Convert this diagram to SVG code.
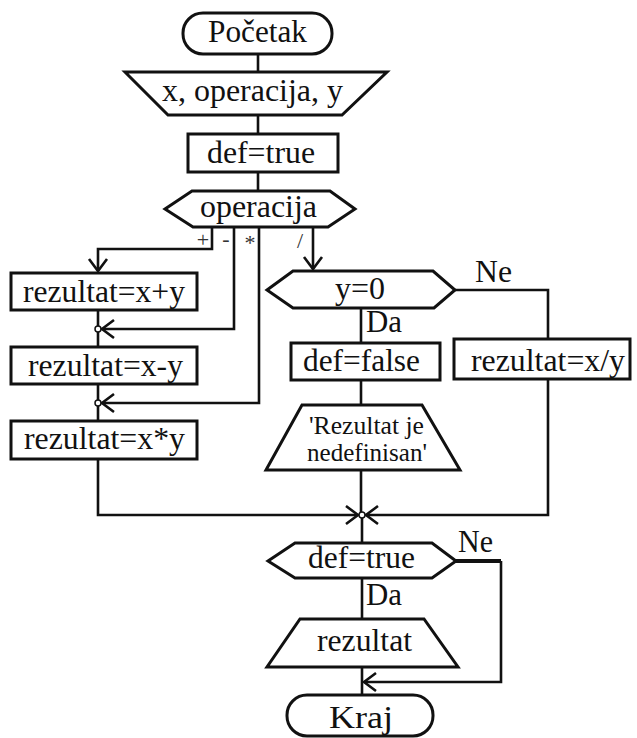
<svg xmlns="http://www.w3.org/2000/svg" width="637" height="738" viewBox="0 0 637 738">
  <style>
    .shape { fill: #fff; stroke: #111; stroke-width: 3; stroke-linejoin: miter; }
    .line { fill: none; stroke: #111; stroke-width: 2.6; }
    .txt { font-family: "Liberation Serif", "Times New Roman", serif; font-size: 32px; fill: #111; text-anchor: middle; }
    .small { font-size: 25px; }
    .lbl { font-family: "Liberation Serif", "Times New Roman", serif; font-size: 22px; fill: #333; text-anchor: middle; }
    .dot { fill: #fff; stroke: #111; stroke-width: 1.5; }
  </style>
  <defs>
    <marker id="arrow" markerUnits="userSpaceOnUse" markerWidth="30" markerHeight="30" viewBox="-15 -15 30 30" refX="0" refY="0" orient="auto">
      <path d="M-12,-9 L0,0 L-12,9" fill="none" stroke="#111" stroke-width="2.6"/>
    </marker>
  </defs>
  <rect width="637" height="738" fill="#fff"/>

  <!-- connectors -->
  <g id="connectors">
    <line class="line" x1="258" y1="54" x2="258" y2="72"/>
    <line class="line" x1="258" y1="115" x2="258" y2="134"/>
    <line class="line" x1="258" y1="172" x2="258" y2="191"/>
    <!-- branches of operacija -->
    <polyline class="line" points="212,227 212,249 98,249 98,271" marker-end="url(#arrow)"/>
    <polyline class="line" points="234,227 234,329 102,329" marker-end="url(#arrow)"/>
    <polyline class="line" points="259,227 259,403 102,403" marker-end="url(#arrow)"/>
    <line class="line" x1="313" y1="227" x2="313" y2="269" marker-end="url(#arrow)"/>
    <!-- left column -->
    <line class="line" x1="98" y1="310" x2="98" y2="326"/>
    <line class="line" x1="98" y1="332" x2="98" y2="347"/>
    <line class="line" x1="98" y1="384" x2="98" y2="400"/>
    <line class="line" x1="98" y1="406" x2="98" y2="421"/>
    <polyline class="line" points="98,459 98,515 358,515" marker-end="url(#arrow)"/>
    <!-- y=0 branches -->
    <line class="line" x1="361" y1="308" x2="361" y2="343"/>
    <polyline class="line" points="455,290 548,290 548,339"/>
    <polyline class="line" points="548,379 548,515 366,515" marker-end="url(#arrow)"/>
    <line class="line" x1="361" y1="380" x2="361" y2="405"/>
    <line class="line" x1="361" y1="470" x2="361" y2="512"/>
    <line class="line" x1="362" y1="518" x2="362" y2="543"/>
    <!-- def=true branches -->
    <line class="line" x1="362" y1="578" x2="362" y2="619"/>
    <line x1="456" y1="561" x2="501" y2="561" stroke="#111" stroke-width="4"/>
    <polyline class="line" points="501,561 501,682 364,682" marker-end="url(#arrow)"/>
    <line class="line" x1="362" y1="667" x2="362" y2="695"/>
    <!-- junction points -->
    <circle class="dot" cx="98" cy="329" r="3"/>
    <circle class="dot" cx="98" cy="403" r="3"/>
    <circle class="dot" cx="362" cy="515" r="3"/>
    <!-- branch labels -->
    <text class="lbl" x="203" y="247">+</text>
    <text class="lbl" x="226" y="246">-</text>
    <text class="lbl" x="250" y="250">*</text>
    <text class="lbl" x="300" y="248">/</text>
    <text class="txt" x="493.5" y="282" textLength="37" lengthAdjust="spacingAndGlyphs">Ne</text>
    <text class="txt" x="384" y="332" textLength="36" lengthAdjust="spacingAndGlyphs">Da</text>
    <text class="txt" x="475.5" y="552" textLength="35" lengthAdjust="spacingAndGlyphs">Ne</text>
    <text class="txt" x="384" y="605" textLength="36" lengthAdjust="spacingAndGlyphs">Da</text>
  </g>

  <g id="pocetak">
    <rect class="shape" x="183" y="13" width="149" height="41" rx="20" ry="20"/>
    <text class="txt" x="257.5" y="42" textLength="99" lengthAdjust="spacingAndGlyphs">Početak</text>
  </g>

  <g id="ulaz">
    <polygon class="shape" points="125,72 387,72 342,115 168,115"/>
    <text class="txt" x="252.5" y="101" textLength="181" lengthAdjust="spacingAndGlyphs">x, operacija, y</text>
  </g>

  <g id="def-true">
    <rect class="shape" x="188" y="134" width="150" height="38"/>
    <text class="txt" x="261" y="163" textLength="108" lengthAdjust="spacingAndGlyphs">def=true</text>
  </g>

  <g id="operacija">
    <polygon class="shape" points="165,209 192,191 330,191 355,209 328,227 193,227"/>
    <text class="txt" x="258.5" y="217" textLength="117" lengthAdjust="spacingAndGlyphs">operacija</text>
  </g>

  <g id="sabiranje">
    <rect class="shape" x="11" y="273" width="186" height="37"/>
    <text class="txt" x="104" y="302" textLength="162" lengthAdjust="spacingAndGlyphs">rezultat=x+y</text>
  </g>

  <g id="oduzimanje">
    <rect class="shape" x="11" y="347" width="186" height="37"/>
    <text class="txt" x="105.5" y="376" textLength="155" lengthAdjust="spacingAndGlyphs">rezultat=x-y</text>
  </g>

  <g id="mnozenje">
    <rect class="shape" x="11" y="421" width="186" height="38"/>
    <text class="txt" x="104.5" y="449" textLength="161" lengthAdjust="spacingAndGlyphs">rezultat=x*y</text>
  </g>

  <g id="y-nula">
    <polygon class="shape" points="267,290 293,271 433,271 455,290 434,308 293,308"/>
    <text class="txt" x="360" y="299" textLength="50" lengthAdjust="spacingAndGlyphs">y=0</text>
  </g>

  <g id="def-false">
    <rect class="shape" x="291" y="343" width="149" height="37"/>
    <text class="txt" x="361.5" y="371" textLength="117" lengthAdjust="spacingAndGlyphs">def=false</text>
  </g>

  <g id="deljenje">
    <rect class="shape" x="454" y="339" width="176" height="40"/>
    <text class="txt" x="548" y="371" textLength="154" lengthAdjust="spacingAndGlyphs">rezultat=x/y</text>
  </g>

  <g id="poruka">
    <polygon class="shape" points="302,405 422,405 460,470 266,470"/>
    <text class="txt small" x="366.5" y="434" textLength="115" lengthAdjust="spacingAndGlyphs">'Rezultat je</text>
    <text class="txt small" x="367" y="461" textLength="120" lengthAdjust="spacingAndGlyphs">nedefinisan'</text>
  </g>

  <g id="def-provera">
    <polygon class="shape" points="268,561 295,543 432,543 456,561 432,578 295,578"/>
    <text class="txt" x="361.5" y="568" textLength="107" lengthAdjust="spacingAndGlyphs">def=true</text>
  </g>

  <g id="izlaz">
    <polygon class="shape" points="300,619 424,619 458,667 267,667"/>
    <text class="txt" x="364.5" y="651" textLength="95" lengthAdjust="spacingAndGlyphs">rezultat</text>
  </g>

  <g id="kraj">
    <rect class="shape" x="287" y="695" width="146" height="41" rx="20" ry="20"/>
    <text class="txt" x="361" y="728" textLength="64" lengthAdjust="spacingAndGlyphs">Kraj</text>
  </g>
</svg>
